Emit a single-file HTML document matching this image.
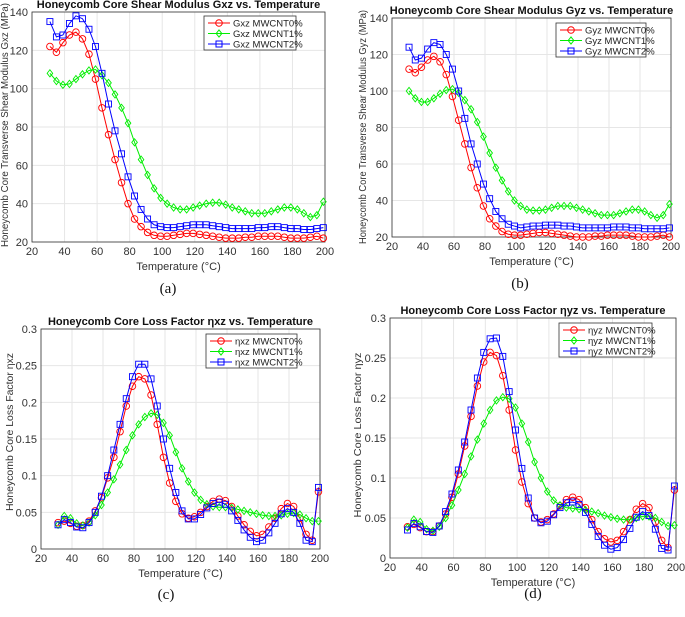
<!DOCTYPE html>
<html><head><meta charset="utf-8"><style>
body{margin:0;background:#fff;}
svg text{font-family:"Liberation Sans",sans-serif;}
</style></head><body>
<svg id="fig" width="685" height="612" viewBox="0 0 685 612" xmlns="http://www.w3.org/2000/svg"></svg>
<script>
const temps=[31,35,39,43,47,51,55,59,63,67,71,75,79,83,87,91,95,99,103,107,111,115,119,123,127,131,135,139,143,147,151,155,159,163,167,171,175,179,183,187,191,195,199];
const xTicks=[20,40,60,80,100,120,140,160,180,200];
const gTicks=[20,40,60,80,100,120,140];
const etaTicks=[0,0.05,0.1,0.15,0.2,0.25,0.3];
const etaTickLabels=["0","0.05","0.1","0.15","0.2","0.25","0.3"];
const gxz0=[122,119,124,128,129.5,126,118,105,90,76,63,51,40,32,28,25,23.5,23,23,23.5,24,24.5,24.5,24,23.5,23,22.5,22,22,22,22.5,22.5,23,23,23,23,22.5,22,22,22,22.5,23,22];
const gxz1=[108,104,102,102.5,105,107.5,109.5,110,107,103,97,90,82,72,63,55,48,43,40,38,37,37,38,39,40,40.5,40.5,39.5,38,37,36,35,35,35,36,37,38,38,37,35,33,34,41];
const gxz2=[135,127,128,134,138,136.5,131,122,108,92,78,66,54,44,37,32,29,28,27.5,27.5,28,28.5,29,29,29,28.5,28,27.5,27,27,27,27,27.5,27.5,28,28,27.5,27,27,26.5,26.5,27,27.5];
const gyz0=[112,110,113,117,119,116,109,97,84,71,58,47,37,30,26,23,21.5,21,21,21.5,22,22.5,22.5,22,21.5,21,20.5,20,20,20,20.5,20.5,21,21,21,21,20.5,20,20,20,20.5,21,20];
const gyz1=[100,96,94,94,96,98.5,100.5,101,99,95,90,83,75,66,58,51,45,40,37,35,34.5,34.5,35,36,37,37,37,36,35,34,33,32,32,32,33,34,35,35,34,32,30.5,32,38];
const gyz2=[124,117,118,123,126.5,125.5,120,112,100,85,71,60,49,41,34,30,27,26,25,25.5,26,26,26.5,26.5,26.5,26,26,25.5,25,25,25,25,25,25.5,25.5,25.5,25,25,24.5,24.5,24.5,24.5,25];
const exz0=[.036,.038,.035,.031,.032,.038,.052,.07,.097,.125,.16,.195,.222,.235,.232,.21,.17,.125,.09,.065,.048,.042,.044,.05,.058,.065,.068,.066,.058,.045,.033,.024,.018,.02,.03,.042,.055,.062,.058,.042,.02,.012,.078];
const exz1=[.033,.045,.042,.035,.032,.036,.046,.06,.077,.095,.115,.135,.155,.17,.18,.185,.183,.172,.155,.132,.11,.092,.077,.067,.061,.058,.057,.057,.056,.054,.052,.05,.048,.046,.045,.045,.046,.048,.049,.047,.042,.038,.038];
const exz2=[.033,.04,.036,.03,.029,.036,.05,.072,.1,.135,.17,.205,.235,.252,.252,.232,.195,.15,.11,.077,.052,.041,.041,.047,.056,.062,.064,.061,.052,.039,.026,.016,.01,.012,.022,.035,.048,.055,.05,.035,.012,.01,.084];
const eyz0=[.039,.042,.038,.033,.033,.04,.055,.076,.105,.14,.177,.215,.245,.257,.253,.228,.185,.135,.095,.068,.05,.045,.048,.055,.065,.073,.076,.073,.063,.048,.033,.024,.02,.022,.033,.048,.061,.068,.063,.045,.022,.013,.085];
const eyz1=[.038,.048,.045,.036,.034,.039,.05,.066,.085,.105,.127,.148,.168,.185,.197,.201,.199,.188,.168,.145,.12,.1,.083,.072,.066,.063,.062,.061,.06,.058,.056,.053,.051,.049,.048,.048,.05,.052,.052,.05,.045,.04,.041];
const eyz2=[.035,.043,.039,.033,.032,.04,.058,.08,.11,.145,.185,.225,.257,.274,.275,.252,.208,.16,.112,.075,.05,.044,.046,.054,.063,.069,.07,.067,.057,.042,.027,.016,.011,.013,.023,.037,.051,.058,.053,.036,.012,.01,.09];

const NS="http://www.w3.org/2000/svg";
const svg=document.getElementById('fig');
function mk(tag,attrs,parent){const e=document.createElementNS(NS,tag);for(const k in attrs)e.setAttribute(k,attrs[k]);(parent||svg).appendChild(e);return e;}
const colors=['#ff0000','#00ee00','#0000ff'];

function panel(p){
  const g=mk('g',{});
  
  
  const sx=v=>p.x0+(v-20)/(180)*(p.x1-p.x0);
  const sy=v=>p.y1-(v-p.ymin)/(p.ymax-p.ymin)*(p.y1-p.y0);
  xTicks.forEach(t=>{
    const l=mk('line',{x1:sx(t),x2:sx(t),y1:p.y0,y2:p.y1,stroke:'#e6e6e6','stroke-width':1},g);
    
    
    const tx=mk('text',{x:sx(t),y:p.y1+13,'font-size':11,'text-anchor':'middle',fill:'#333'},g);
    tx.textContent=t;
    
    
  });
  p.ticks.forEach((t,i)=>{
    const l=mk('line',{x1:p.x0,x2:p.x1,y1:sy(t),y2:sy(t),stroke:'#e6e6e6','stroke-width':1},g);
    
    
    const tx=mk('text',{x:p.x0-4,y:sy(t)+4,'font-size':11,'text-anchor':'end',fill:'#333'},g);
    tx.textContent=p.labels[i];
    
    
  });
  const box=mk('rect',{x:p.x0,y:p.y0,width:p.x1-p.x0,height:p.y1-p.y0,fill:'none',stroke:'#333','stroke-width':0.8},g);
  
  
  p.series.forEach((s,si)=>{
    const c=colors[si];
    const sg=mk('g',{},g);
    
    
    const pts=temps.map((t,i)=>sx(t)+','+sy(s[i])).join(' ');
    mk('polyline',{points:pts,fill:'none',stroke:c,'stroke-width':1},sg);
    temps.forEach((t,i)=>{
      const X=sx(t),Y=sy(s[i]);let m;
      if(si===0)m=mk('circle',{cx:X,cy:Y,r:3.3,fill:'none',stroke:c,'stroke-width':0.9},sg);
      else if(si===1)m=mk('polygon',{points:`${X},${Y-3.6} ${X+2.8},${Y} ${X},${Y+3.6} ${X-2.8},${Y}`,fill:'none',stroke:c,'stroke-width':0.9},sg);
      else m=mk('rect',{x:X-3,y:Y-3,width:6,height:6,fill:'none',stroke:c,'stroke-width':0.9},sg);
      
      
    });
  });
  const tt=mk('text',{x:(p.x0+p.x1)/2,y:p.y0-4,'font-size':11,'font-weight':'bold','text-anchor':'middle',fill:'#111'},g);
  tt.textContent=p.title;
  
  
  const xl=mk('text',{x:(p.x0+p.x1)/2,y:p.y1+28,'font-size':11,'text-anchor':'middle',fill:'#333'},g);
  xl.textContent='Temperature (°C)';
  
  
  const yc=p.ylc;
  const yl=mk('text',{x:p.ylx,y:yc,'font-size':10.5,'text-anchor':'middle',fill:'#333',transform:`rotate(-90 ${p.ylx} ${yc})`,textLength:p.ylen,lengthAdjust:'spacingAndGlyphs'},g);
  yl.textContent=p.ylabel;
  
  
  const lg=mk('g',{},g);
  
  
  mk('rect',{x:p.lx,y:p.ly,width:p.lw,height:34,fill:'#fff',stroke:'#333','stroke-width':0.8},lg);
  ['MWCNT0%','MWCNT1%','MWCNT2%'].forEach((n,i)=>{
    const yy=p.ly+7+i*10.5,c=colors[i],mx=p.lx+15;
    mk('line',{x1:p.lx+4,x2:p.lx+26,y1:yy,y2:yy,stroke:c,'stroke-width':1},lg);
    if(i===0)mk('circle',{cx:mx,cy:yy,r:3.3,fill:'none',stroke:c},lg);
    else if(i===1)mk('polygon',{points:`${mx},${yy-3.6} ${mx+2.8},${yy} ${mx},${yy+3.6} ${mx-2.8},${yy}`,fill:'none',stroke:c},lg);
    else mk('rect',{x:mx-3,y:yy-3,width:6,height:6,fill:'none',stroke:c},lg);
    const t=mk('text',{x:p.lx+29,y:yy+3.5,'font-size':9.5,fill:'#222'},lg);
    t.textContent=p.sym+' '+n;
    
    
  });
  const cap=mk('text',{x:p.capx,y:p.capy,'font-size':15,'text-anchor':'middle',fill:'#111'},g);
  cap.style.fontFamily='"Liberation Serif",serif';
  cap.textContent=p.cap;
  
  
}
const gLabels=gTicks.map(String);
panel({name:'panel-a-gxz',x0:32,x1:325,y0:12,y1:242,ymin:20,ymax:140,ticks:gTicks,labels:gLabels,series:[gxz0,gxz1,gxz2],sym:'Gxz',title:'Honeycomb Core Shear Modulus Gxz vs. Temperature',ylabel:'Honeycomb Core Transverse Shear Modulus Gxz (MPa)',ylx:8,ylc:125,ylen:244,lx:204,ly:16,lw:92,cap:'(a)',capx:168,capy:293});
panel({name:'panel-b-gyz',x0:392,x1:671,y0:18,y1:237,ymin:20,ymax:140,ticks:gTicks,labels:gLabels,series:[gyz0,gyz1,gyz2],sym:'Gyz',title:'Honeycomb Core Shear Modulus Gyz vs. Temperature',ylabel:'Honeycomb Core Transverse Shear Modulus Gyz (MPa)',ylx:366,ylc:127,ylen:234,lx:556,ly:23,lw:90,cap:'(b)',capx:520,capy:288});
panel({name:'panel-c-etaxz',x0:41,x1:320,y0:329,y1:549,ymin:0,ymax:0.3,ticks:etaTicks,labels:etaTickLabels,series:[exz0,exz1,exz2],sym:'ηxz',title:'Honeycomb Core Loss Factor ηxz vs. Temperature',ylabel:'Honeycomb Core Loss Factor ηxz',ylx:13,ylc:432,ylen:158,lx:206,ly:334,lw:91,cap:'(c)',capx:166,capy:599});
panel({name:'panel-d-etayz',x0:390,x1:676,y0:318,y1:558,ymin:0,ymax:0.3,ticks:etaTicks,labels:etaTickLabels,series:[eyz0,eyz1,eyz2],sym:'ηyz',title:'Honeycomb Core Loss Factor ηyz vs. Temperature',ylabel:'Honeycomb Core Loss Factor ηyz',ylx:361,ylc:435,ylen:165,lx:559,ly:323,lw:93,cap:'(d)',capx:533,capy:598});
</script>
</body></html>
